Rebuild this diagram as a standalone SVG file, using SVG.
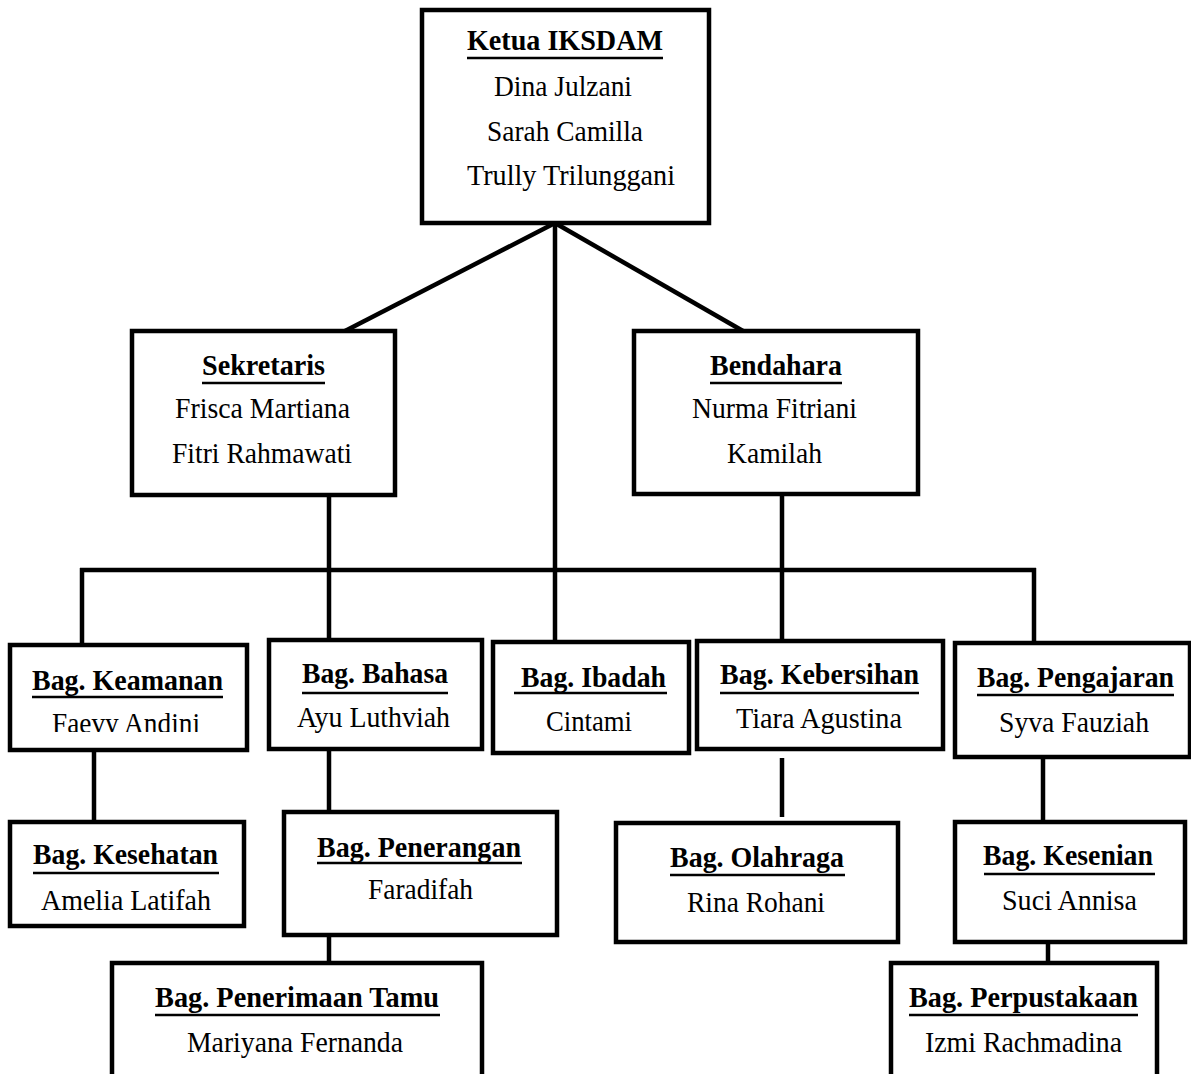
<svg xmlns="http://www.w3.org/2000/svg" width="1191" height="1074" viewBox="0 0 1191 1074">
<style>
.box{fill:#fff;stroke:#000;stroke-width:4.5}
.con line{stroke:#000;stroke-width:4.5;stroke-linecap:butt}
.ul{stroke:#000;stroke-width:2.5}
text{font-family:"Liberation Serif","Times New Roman",serif;font-size:30px;fill:#000;text-anchor:middle}
.h{font-weight:bold}
</style>
<defs>
<clipPath id="clipFaevy"><rect x="0" y="700" width="260" height="32"/></clipPath>
</defs>
<rect width="1191" height="1074" fill="#fff"/>
<g id="connectors" class="con">
<line x1="555" y1="223" x2="345" y2="331"/>
<line x1="555" y1="223" x2="743" y2="331"/>
<line x1="555" y1="221" x2="555" y2="642"/>
<line x1="329" y1="495" x2="329" y2="640"/>
<line x1="782" y1="494" x2="782" y2="641"/>
<line x1="80" y1="570" x2="1036" y2="570"/>
<line x1="82" y1="568" x2="82" y2="645"/>
<line x1="1034" y1="568" x2="1034" y2="643"/>
<line x1="94" y1="750" x2="94" y2="822"/>
<line x1="329" y1="749" x2="329" y2="812"/>
<line x1="329" y1="935" x2="329" y2="963"/>
<line x1="782" y1="758" x2="782" y2="817"/>
<line x1="1043" y1="757" x2="1043" y2="822"/>
<line x1="1048" y1="942" x2="1048" y2="963"/>
</g>
<g id="ketua">
<rect class="box" x="422" y="10" width="287" height="213"/>
<text class="h" x="565" y="50" textLength="196" lengthAdjust="spacingAndGlyphs">Ketua IKSDAM</text>
<line class="ul" x1="467" y1="58" x2="663" y2="58"/>
<text x="563" y="96" textLength="138" lengthAdjust="spacingAndGlyphs">Dina Julzani</text>
<text x="565" y="141" textLength="156" lengthAdjust="spacingAndGlyphs">Sarah Camilla</text>
<text x="571" y="185" textLength="208" lengthAdjust="spacingAndGlyphs">Trully Trilunggani</text>
</g>
<g id="sekretaris">
<rect class="box" x="132" y="331" width="263" height="164"/>
<text class="h" x="263.5" y="375" textLength="123" lengthAdjust="spacingAndGlyphs">Sekretaris</text>
<line class="ul" x1="202" y1="383" x2="325" y2="383"/>
<text x="262.5" y="418" textLength="175" lengthAdjust="spacingAndGlyphs">Frisca Martiana</text>
<text x="262" y="463" textLength="180" lengthAdjust="spacingAndGlyphs">Fitri Rahmawati</text>
</g>
<g id="bendahara">
<rect class="box" x="634" y="331" width="284" height="163"/>
<text class="h" x="776" y="375" textLength="132" lengthAdjust="spacingAndGlyphs">Bendahara</text>
<line class="ul" x1="710" y1="383" x2="842" y2="383"/>
<text x="774.5" y="418" textLength="165" lengthAdjust="spacingAndGlyphs">Nurma Fitriani</text>
<text x="774.5" y="463" textLength="95" lengthAdjust="spacingAndGlyphs">Kamilah</text>
</g>
<g id="keamanan">
<rect class="box" x="10" y="645" width="237" height="105"/>
<text class="h" x="127.5" y="690" textLength="191" lengthAdjust="spacingAndGlyphs">Bag. Keamanan</text>
<line class="ul" x1="32" y1="697" x2="223" y2="697"/>
<text x="126" y="733" textLength="148" lengthAdjust="spacingAndGlyphs" clip-path="url(#clipFaevy)">Faevy Andini</text>
</g>
<g id="bahasa">
<rect class="box" x="269" y="640" width="213" height="109"/>
<text class="h" x="375" y="683" textLength="146" lengthAdjust="spacingAndGlyphs">Bag. Bahasa</text>
<line class="ul" x1="302" y1="693" x2="448" y2="693"/>
<text x="373.5" y="727" textLength="153" lengthAdjust="spacingAndGlyphs">Ayu Luthviah</text>
</g>
<g id="ibadah">
<rect class="box" x="493" y="642" width="196" height="111"/>
<text class="h" x="593.5" y="687" textLength="145" lengthAdjust="spacingAndGlyphs">Bag. Ibadah</text>
<line class="ul" x1="514" y1="693" x2="667" y2="693"/>
<text x="589" y="731" textLength="86" lengthAdjust="spacingAndGlyphs">Cintami</text>
</g>
<g id="kebersihan">
<rect class="box" x="697" y="641" width="246" height="108"/>
<text class="h" x="819.5" y="684" textLength="199" lengthAdjust="spacingAndGlyphs">Bag. Kebersihan</text>
<line class="ul" x1="720" y1="693" x2="919" y2="693"/>
<text x="819" y="728" textLength="166" lengthAdjust="spacingAndGlyphs">Tiara Agustina</text>
</g>
<g id="pengajaran">
<rect class="box" x="955" y="643" width="235" height="114"/>
<text class="h" x="1075.5" y="687" textLength="197" lengthAdjust="spacingAndGlyphs">Bag. Pengajaran</text>
<line class="ul" x1="977" y1="695" x2="1174" y2="695"/>
<text x="1074" y="732" textLength="150" lengthAdjust="spacingAndGlyphs">Syva Fauziah</text>
</g>
<g id="kesehatan">
<rect class="box" x="10" y="822" width="234" height="104"/>
<text class="h" x="125.5" y="864" textLength="185" lengthAdjust="spacingAndGlyphs">Bag. Kesehatan</text>
<line class="ul" x1="33" y1="873" x2="219" y2="873"/>
<text x="126" y="910" textLength="170" lengthAdjust="spacingAndGlyphs">Amelia Latifah</text>
</g>
<g id="penerangan">
<rect class="box" x="284" y="812" width="273" height="123"/>
<text class="h" x="419" y="857" textLength="204" lengthAdjust="spacingAndGlyphs">Bag. Penerangan</text>
<line class="ul" x1="317" y1="863" x2="522" y2="863"/>
<text x="420.5" y="899" textLength="105" lengthAdjust="spacingAndGlyphs">Faradifah</text>
</g>
<g id="olahraga">
<rect class="box" x="616" y="823" width="282" height="119"/>
<text class="h" x="757" y="867" textLength="174" lengthAdjust="spacingAndGlyphs">Bag. Olahraga</text>
<line class="ul" x1="670" y1="875" x2="845" y2="875"/>
<text x="756" y="912" textLength="138" lengthAdjust="spacingAndGlyphs">Rina Rohani</text>
</g>
<g id="kesenian">
<rect class="box" x="955" y="822" width="230" height="120"/>
<text class="h" x="1068" y="865" textLength="170" lengthAdjust="spacingAndGlyphs">Bag. Kesenian</text>
<line class="ul" x1="984" y1="874" x2="1155" y2="874"/>
<text x="1069.5" y="910" textLength="135" lengthAdjust="spacingAndGlyphs">Suci Annisa</text>
</g>
<g id="penerimaan">
<rect class="box" x="112" y="963" width="370" height="118"/>
<text class="h" x="297" y="1007" textLength="284" lengthAdjust="spacingAndGlyphs">Bag. Penerimaan Tamu</text>
<line class="ul" x1="155" y1="1015" x2="440" y2="1015"/>
<text x="295" y="1052" textLength="216" lengthAdjust="spacingAndGlyphs">Mariyana Fernanda</text>
</g>
<g id="perpustakaan">
<rect class="box" x="891" y="963" width="266" height="118"/>
<text class="h" x="1023.5" y="1007" textLength="229" lengthAdjust="spacingAndGlyphs">Bag. Perpustakaan</text>
<line class="ul" x1="909" y1="1015" x2="1138" y2="1015"/>
<text x="1023.5" y="1052" textLength="197" lengthAdjust="spacingAndGlyphs">Izmi Rachmadina</text>
</g>
</svg>
